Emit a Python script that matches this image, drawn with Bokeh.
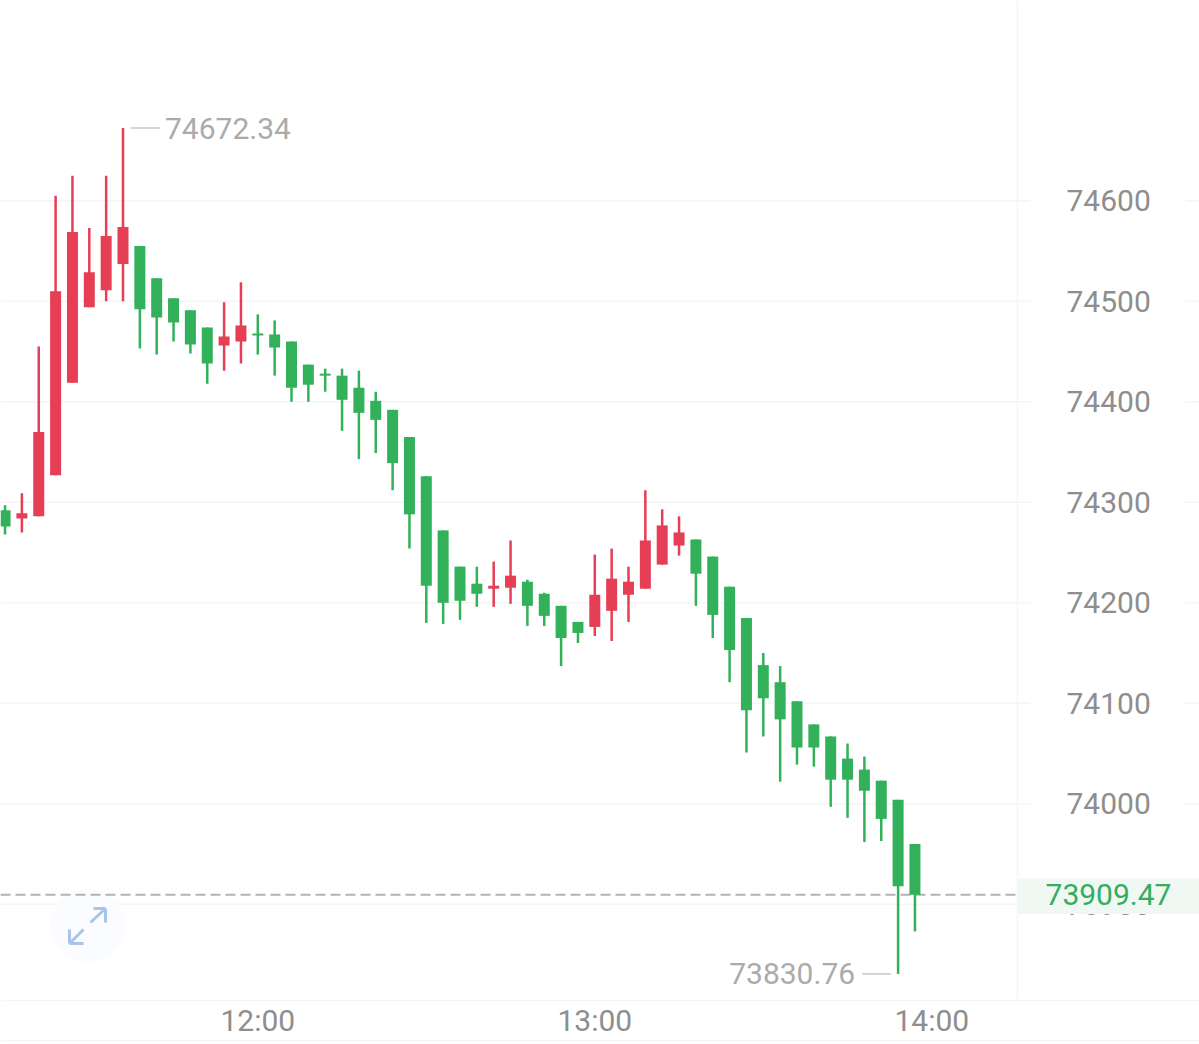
from bokeh.plotting import figure
from bokeh.embed import file_html
from bokeh.resources import INLINE
from bokeh.core.properties import value
from bokeh.models import (ColumnDataSource, LinearAxis, FixedTicker, BasicTickFormatter,
                          BoxAnnotation, Span, Range1d)

# 3-minute candles, minutes after midnight (first candle 11:15)
times = [675 + 3 * i for i in range(55)]
opens = [74292, 74284, 74286, 74327, 74419, 74494, 74511, 74537, 74555, 74523, 74503, 74491, 74474, 74456, 74460,
         74468, 74467, 74460, 74437, 74428, 74426, 74414, 74401, 74392, 74365, 74326, 74272, 74236, 74219, 74214,
         74215, 74221, 74209, 74197, 74181, 74176, 74192, 74208, 74214, 74238, 74257, 74263, 74246, 74216, 74185,
         74138, 74121, 74102, 74079, 74067, 74045, 74034, 74023, 74004, 73960]
closes = [74276, 74289, 74370, 74510, 74569, 74529, 74565, 74574, 74492, 74484, 74479, 74457, 74438, 74465, 74476,
          74466, 74454, 74414, 74417, 74426, 74402, 74389, 74382, 74339, 74288, 74217, 74200, 74202, 74209, 74217,
          74227, 74197, 74187, 74165, 74170, 74208, 74224, 74221, 74262, 74277, 74270, 74229, 74188, 74153, 74093,
          74105, 74084, 74056, 74056, 74024, 74024, 74013, 73985, 73918, 73909.47]
highs = [74297, 74309, 74455, 74605, 74625, 74573, 74625, 74672.34, 74555, 74523, 74503, 74491, 74474, 74499, 74519,
         74487, 74481, 74460, 74437, 74433, 74433, 74431, 74410, 74392, 74365, 74326, 74272, 74236, 74236, 74241,
         74262, 74223, 74210, 74197, 74181, 74248, 74254, 74236, 74312, 74293, 74286, 74263, 74246, 74216, 74185,
         74150, 74137, 74102, 74079, 74067, 74060, 74047, 74023, 74004, 73960]
lows = [74268, 74270, 74286, 74327, 74419, 74494, 74500, 74500, 74453, 74447, 74460, 74448, 74418, 74431, 74438,
        74447, 74426, 74400, 74400, 74410, 74371, 74343, 74349, 74312, 74254, 74180, 74179, 74183, 74196, 74196,
        74199, 74177, 74177, 74137, 74160, 74167, 74162, 74181, 74214, 74238, 74247, 74197, 74165, 74121, 74051,
        74067, 74022, 74039, 74037, 73997, 73986, 73962, 73963, 73830.76, 73873]

price_ticks = [73900, 74000, 74100, 74200, 74300, 74400, 74500, 74600]
time_ticks = [720, 780, 840]
time_labels = {720: "12:00", 780: "13:00", 840: "14:00"}
high_label = "74672.34"
low_label = "73830.76"
last_label = "73909.47"

UP = "#e63f55"
DOWN = "#32b15a"
GRID = "#f5f5f5"
TEXT = "#8e8e8e"

W, H = 1199, 1044
PX_PER_MIN = 337 / 60
PX_PER_PRICE = 1.005
x0 = 720 - 257.3 / PX_PER_MIN
ytop = 74000 + 803.3 / PX_PER_PRICE


def X(px):
    return x0 + px / PX_PER_MIN


def Y(py):
    return ytop - py / PX_PER_PRICE


p = figure(width=W, height=H, x_range=Range1d(X(0), X(W)), y_range=Range1d(Y(H), Y(0)),
           x_axis_type=None, y_axis_type=None, min_border=0, toolbar_location=None,
           output_backend="svg", outline_line_color=None, background_fill_color="white",
           border_fill_color="white")

# grid in two pieces, broken around the price labels
n = len(price_ticks)
p.segment(x0=[X(0)] * n, x1=[X(1030)] * n, y0=price_ticks, y1=price_ticks,
          line_color=GRID, line_width=1.5, level="underlay")
p.segment(x0=[X(1185)] * n, x1=[X(W)] * n, y0=price_ticks, y1=price_ticks,
          line_color=GRID, line_width=1.5, level="underlay")

# price axis
ya = LinearAxis(ticker=FixedTicker(ticks=price_ticks), formatter=BasicTickFormatter(use_scientific=False),
                fixed_location=X(1017), bounds=(Y(1000), Y(0)))
ya.axis_line_color = GRID
ya.axis_line_width = 1.5
ya.major_tick_line_color = None
ya.minor_tick_line_color = None
ya.major_label_text_font = "Roboto"
ya.major_label_text_font_size = "30px"
ya.major_label_text_color = TEXT
ya.major_label_standoff = 43
p.add_layout(ya, "right")

# time axis
xa = LinearAxis(ticker=FixedTicker(ticks=time_ticks), major_label_overrides=time_labels,
                fixed_location=Y(1000))
xa.axis_line_color = GRID
xa.axis_line_width = 1.5
xa.major_tick_line_color = None
xa.minor_tick_line_color = None
xa.major_label_text_font = "Roboto"
xa.major_label_text_font_size = "30px"
xa.major_label_text_color = TEXT
xa.major_label_standoff = -4
p.add_layout(xa, "below")

p.add_layout(Span(location=Y(1040), dimension="width", line_color=GRID, line_width=1.5))

# expand button
p.scatter(x=[X(87)], y=[Y(925)], size=74, marker="circle", fill_color="#fafcff", line_color=None, level="underlay")
arrow_color = "#a9c4e8"
ax0 = [X(90), X(93), X(105), X(83), X(69), X(69)]
ay0 = [Y(922), Y(908), Y(908), Y(929), Y(929), Y(943)]
ax1 = [X(105), X(105), X(105), X(69), X(69), X(83)]
ay1 = [Y(908), Y(908), Y(922), Y(943), Y(943), Y(943)]
p.segment(x0=ax0, y0=ay0, x1=ax1, y1=ay1, line_color=arrow_color, line_width=3)

# last price line and tag
last = closes[-1]
p.line(x=[X(0), X(1015)], y=[last, last], line_color="#b3b3b3", line_width=2, line_dash="10 5")
p.add_layout(BoxAnnotation(left=X(1017), right=X(W), top=Y(878), bottom=Y(913.5),
                           fill_color="#f0f8f3", fill_alpha=1, line_color=None, level="annotation"))

# candles
colors = [UP if c >= o else DOWN for o, c in zip(opens, closes)]
src = ColumnDataSource(dict(t=times, o=opens, c=closes, h=highs, l=lows, col=colors,
                            top=[max(a, b) for a, b in zip(opens, closes)],
                            bot=[min(a, b) for a, b in zip(opens, closes)]))
p.segment(x0="t", x1="t", y0="l", y1="h", source=src, line_color="col", line_width=2.5)
p.vbar(x="t", top="top", bottom="bot", width=11 / PX_PER_MIN, source=src, fill_color="col", line_color=None)

# high / low markers
hi_i = highs.index(max(highs))
lo_i = lows.index(min(lows))
p.segment(x0=[times[hi_i] + 8 / PX_PER_MIN], x1=[times[hi_i] + 37 / PX_PER_MIN], y0=[highs[hi_i]], y1=[highs[hi_i]],
          line_color="#c8c8c8", line_width=1.5)
p.text(x=[times[hi_i]], y=[highs[hi_i]], text=[high_label], x_offset=42, text_baseline="middle",
       text_align="left", text_font=value("Roboto"), text_font_size="30px", text_color="#ababab")
p.segment(x0=[times[lo_i] - 36 / PX_PER_MIN], x1=[times[lo_i] - 7 / PX_PER_MIN], y0=[lows[lo_i]], y1=[lows[lo_i]],
          line_color="#c8c8c8", line_width=1.5)
p.text(x=[times[lo_i]], y=[lows[lo_i]], text=[low_label], x_offset=-43, text_baseline="middle",
       text_align="right", text_font=value("Roboto"), text_font_size="30px", text_color="#ababab")

t = p.text(x=[X(1108)], y=[last], text=[last_label], text_baseline="middle", text_align="center",
           text_font=value("Roboto"), text_font_size="30px", text_color="#35ad60")
t.level = "overlay"

open("out.html", "w").write(file_html(p, INLINE))
